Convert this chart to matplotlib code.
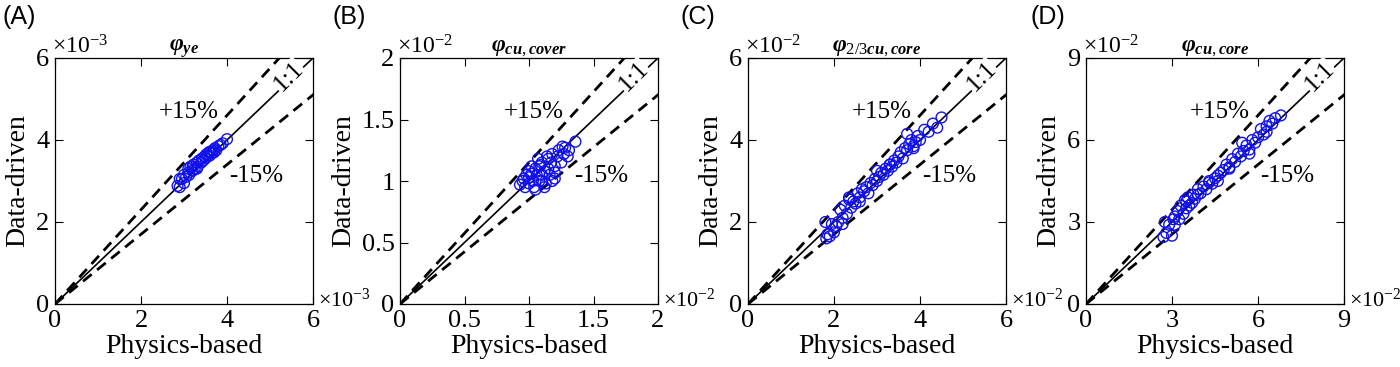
import matplotlib
matplotlib.use("Agg")
import matplotlib.pyplot as plt
import numpy as np

plt.rcParams["font.family"] = ["Liberation Serif", "DejaVu Serif"]
plt.rcParams["mathtext.fontset"] = "custom"
plt.rcParams["mathtext.it"] = "Liberation Serif:italic:bold"
plt.rcParams["mathtext.rm"] = "Liberation Serif"
plt.rcParams["mathtext.bf"] = "Liberation Serif:bold"

# panel A (x1e-3)
a_phys = [2.85, 2.9, 2.95, 3.0, 3.05, 3.1, 3.12, 3.15, 3.2, 3.22, 3.25, 3.3, 3.32, 3.35,
          3.4, 3.42, 3.45, 3.48, 3.5, 3.52, 3.55, 3.58, 3.6, 3.62, 3.65, 3.68, 3.7, 3.72,
          3.75, 3.8, 3.85, 3.9, 4.0, 2.9, 3.0, 3.1, 3.2, 3.3]
a_data = [2.88, 2.85, 3.05, 2.95, 3.1, 3.3, 3.15, 3.35, 3.25, 3.4, 3.3, 3.45, 3.35, 3.5,
          3.45, 3.55, 3.5, 3.6, 3.55, 3.65, 3.6, 3.7, 3.62, 3.72, 3.68, 3.75, 3.7, 3.8,
          3.75, 3.85, 3.88, 3.92, 4.02, 3.05, 3.15, 3.2, 3.35, 3.3]

# panel B (x1e-2)
b_phys = [0.93, 0.95, 0.97, 0.98, 1.0, 1.0, 1.02, 1.03, 1.04, 1.05, 1.06, 1.07, 1.08, 1.08,
          1.1, 1.1, 1.12, 1.13, 1.14, 1.15, 1.16, 1.17, 1.18, 1.2, 1.2, 1.22, 1.23, 1.25,
          1.26, 1.27, 1.28, 1.3, 1.31, 1.36, 0.96, 1.0, 1.05, 1.1, 1.15, 1.2, 1.02, 1.09,
          1.12, 1.18]
b_data = [0.97, 1.0, 0.95, 1.05, 0.98, 1.08, 1.12, 1.0, 0.95, 1.1, 1.05, 1.18, 1.0, 1.12,
          1.05, 1.15, 1.08, 0.98, 1.2, 1.1, 1.05, 1.15, 1.22, 1.12, 1.02, 1.2, 1.25, 1.15,
          1.28, 1.22, 1.27, 1.2, 1.25, 1.32, 1.02, 1.03, 0.93, 1.0, 1.18, 1.07, 1.06, 1.13,
          0.95, 1.0]

# panel C (x1e-2)
c_phys = [1.8, 1.82, 1.85, 1.9, 1.95, 2.0, 2.05, 2.1, 2.15, 2.2, 2.25, 2.3, 2.35, 2.4, 2.45,
          2.5, 2.55, 2.6, 2.65, 2.7, 2.75, 2.8, 2.85, 2.9, 2.95, 3.0, 3.05, 3.1, 3.15, 3.2,
          3.25, 3.3, 3.35, 3.4, 3.45, 3.5, 3.55, 3.6, 3.65, 3.7, 3.75, 3.8, 3.85, 3.9, 3.95,
          4.0, 4.1, 4.2, 4.3, 4.4, 4.5, 2.2, 2.35, 2.6, 3.0, 3.3, 3.7, 3.85]
c_data = [2.0, 1.6, 1.7, 1.65, 1.95, 1.75, 1.9, 2.0, 2.3, 2.1, 2.4, 2.2, 2.6, 2.35, 2.5,
          2.45, 2.7, 2.6, 2.8, 2.75, 2.85, 2.7, 2.95, 2.9, 3.05, 3.0, 3.1, 3.2, 3.15, 3.3,
          3.25, 3.4, 3.35, 3.5, 3.45, 3.6, 3.7, 3.55, 3.8, 3.75, 3.9, 4.0, 3.85, 3.95, 4.1,
          4.0, 4.25, 4.2, 4.4, 4.3, 4.55, 1.95, 2.55, 2.5, 3.25, 3.4, 4.15, 3.8]

# panel D (x1e-2)
d_phys = [2.7, 2.75, 2.8, 2.9, 3.0, 3.05, 3.1, 3.2, 3.25, 3.3, 3.4, 3.45, 3.5, 3.55, 3.6,
          3.7, 3.75, 3.8, 3.9, 4.0, 4.1, 4.2, 4.3, 4.4, 4.5, 4.6, 4.7, 4.8, 4.9, 5.0, 5.1,
          5.2, 5.3, 5.4, 5.5, 5.6, 5.7, 5.8, 5.9, 6.0, 6.1, 6.2, 6.3, 6.4, 6.5, 6.6, 6.8,
          3.1, 3.5, 3.9, 4.6, 5.0, 5.7, 6.3, 4.3, 5.45]
d_data = [2.45, 3.0, 2.6, 2.9, 2.5, 3.1, 2.9, 3.4, 3.1, 3.6, 3.3, 3.8, 3.5, 3.9, 3.6,
          3.7, 4.0, 3.85, 4.2, 4.05, 4.3, 4.2, 4.5, 4.4, 4.6, 4.7, 4.8, 4.9, 5.1, 4.95, 5.3,
          5.2, 5.5, 5.4, 5.6, 5.8, 5.5, 6.0, 5.9, 6.1, 6.4, 6.2, 6.5, 6.7, 6.6, 6.8, 6.9,
          3.2, 3.75, 4.0, 4.5, 5.0, 5.65, 6.3, 4.45, 5.9]

panels = [
    ("(A)", r"$\varphi_{ye}$", a_phys, a_data, 6, [0, 2, 4, 6], ["0", "2", "4", "6"], "-3"),
    ("(B)", r"$\varphi_{cu,cover}$", b_phys, b_data, 2, [0, 0.5, 1, 1.5, 2],
     ["0", "0.5", "1", "1.5", "2"], "-2"),
    ("(C)", r"$\varphi_{2/3cu,core}$", c_phys, c_data, 6, [0, 2, 4, 6], ["0", "2", "4", "6"], "-2"),
    ("(D)", r"$\varphi_{cu,core}$", d_phys, d_data, 9, [0, 3, 6, 9], ["0", "3", "6", "9"], "-2"),
]
lefts = [55, 400, 748, 1086]
label_x = [2, 333, 680, 1030]

fig = plt.figure(figsize=(14, 3.67), dpi=100)

for i, (tag, title, xp, yd, lim, ticks, tlabels, expo) in enumerate(panels):
    ax = fig.add_axes([lefts[i] / 1400, 63 / 367, 258 / 1400, 246 / 367])
    line = np.array([0, lim * 1.2])
    ax.plot(line, line, color="black", lw=1.2)
    ax.plot(line, line * 1.15, color="black", lw=2, ls=(0, (4, 2.5)))
    ax.plot(line, line * 0.85, color="black", lw=2, ls=(0, (4, 2.5)))
    ax.scatter(xp, yd, s=60, facecolors="none", edgecolors="#1010ee", linewidths=1.0, zorder=3)
    ax.set_xlim(0, lim)
    ax.set_ylim(0, lim)
    ax.set_xticks(ticks)
    ax.set_yticks(ticks)
    ax.set_xticklabels(tlabels)
    ax.set_yticklabels(tlabels)
    ax.tick_params(direction="in", top=True, right=True, labelsize=19, length=6, width=0.8, pad=4)
    for s in ax.spines.values():
        s.set_linewidth(0.9)
    ax.set_xlabel("Physics-based", fontsize=20, labelpad=2)
    ax.set_ylabel("Data-driven", fontsize=20, labelpad=4)
    ax.set_title(title, fontsize=17, pad=5)
    ax.text(0.52, 0.78, "+15%", transform=ax.transAxes, fontsize=18, ha="center", va="center")
    ax.text(0.78, 0.52, "-15%", transform=ax.transAxes, fontsize=18, ha="center", va="center")
    ax.text(0.905, 0.925, "1:1", transform=ax.transAxes, fontsize=18, ha="center", va="center",
            rotation=45, bbox=dict(facecolor="white", edgecolor="none", pad=0.5), zorder=4)
    ax.text(-0.01, 1.02, r"$\times\mathregular{10}^{%s}$" % expo, transform=ax.transAxes,
            fontsize=17, ha="left", va="baseline")
    ax.text(1.02, -0.012, r"$\times\mathregular{10}^{%s}$" % expo, transform=ax.transAxes,
            fontsize=16, ha="left", va="baseline")
    fig.text(label_x[i] / 1400, 1 - 17 / 367, tag, fontsize=18, family="Liberation Sans",
             ha="left", va="center")

fig.savefig("out.png", dpi=100)
